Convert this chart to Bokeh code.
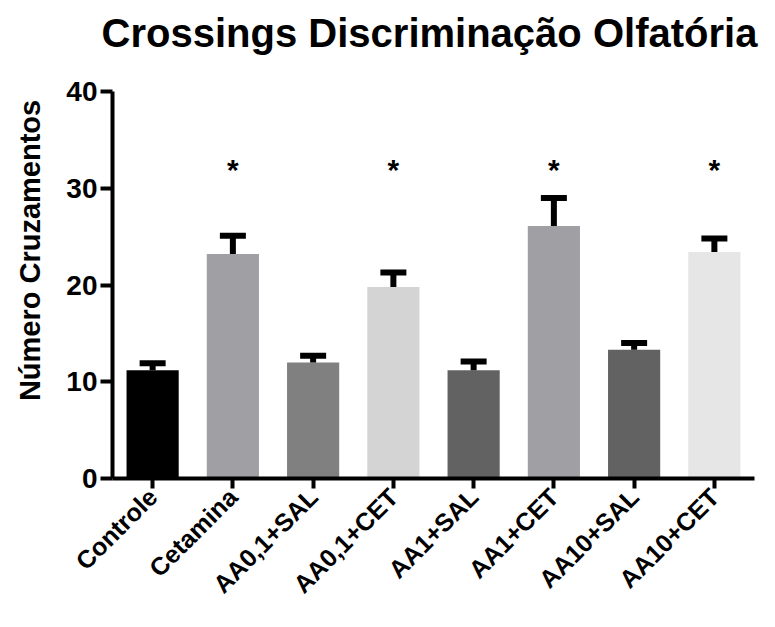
from bokeh.plotting import figure
from bokeh.models import FactorRange, Range1d, FixedTicker, ColumnDataSource
from bokeh.layouts import column, row
from bokeh.core.properties import value
from bokeh.embed import file_html
from bokeh.resources import INLINE
import math

categories = ["Controle", "Cetamina", "AA0,1+SAL", "AA0,1+CET",
              "AA1+SAL", "AA1+CET", "AA10+SAL", "AA10+CET"]
means = [11.2, 23.2, 12.0, 19.8, 11.2, 26.1, 13.3, 23.4]
upper = [11.9, 25.1, 12.7, 21.3, 12.1, 29.0, 14.0, 24.8]
colors = ["#000000", "#a0a0a4", "#808080", "#d4d4d4",
          "#626262", "#a0a0a4", "#626262", "#e6e6e6"]
sig_cats = ["Cetamina", "AA0,1+CET", "AA1+CET", "AA10+CET"]
sig_y = [31.9, 31.9, 31.9, 31.9]
y_ticks = [0, 10, 20, 30, 40]
title_text = "Crossings Discriminação Olfatória"
y_label_text = "Número Cruzamentos"

FONT = "Liberation Sans"

TOP, BOTTOM = 16, 128          # borders of the chart strip
TW, TH = 759, 75               # title strip
LW, LH = 50, 611 - TH          # y-label strip / chart height
FH = LH - TOP - BOTTOM         # frame height in pixels

# ---- title strip ----
t = figure(width=TW, height=TH, x_range=Range1d(0, TW), y_range=Range1d(0, TH),
           output_backend="svg", toolbar_location=None,
           x_axis_location=None, y_axis_location=None,
           min_border=0, outline_line_color=None)
t.grid.visible = False
t.text(x=[429], y=[TH - 32], text=[title_text], text_align="center",
       text_baseline="alphabetic", text_font=value(FONT), text_font_style="bold",
       text_font_size="40px", text_color="black")

# ---- y label strip (frame aligned with the chart frame) ----
lab = figure(width=LW, height=LH, x_range=Range1d(0, LW), y_range=Range1d(0, FH),
             output_backend="svg", toolbar_location=None,
             x_axis_location=None, y_axis_location=None,
             min_border_left=0, min_border_right=0,
             min_border_top=TOP, min_border_bottom=BOTTOM, outline_line_color=None)
lab.grid.visible = False
lab.text(x=[29], y=[FH - 161], text=[y_label_text], angle=math.pi / 2,
         text_align="center", text_baseline="middle", text_font=value(FONT),
         text_font_style="bold", text_font_size="29px", text_color="black")

# ---- main chart ----
p = figure(x_range=FactorRange(*categories, range_padding=0),
           y_range=Range1d(0, 40),
           width=TW - LW, height=LH, output_backend="svg", toolbar_location=None,
           min_border_left=112 - LW, min_border_right=5, min_border_top=TOP,
           min_border_bottom=BOTTOM)

src = ColumnDataSource(dict(x=categories, top=means, up=upper, color=colors))
p.vbar(x="x", top="top", width=0.65, fill_color="color", line_color=None, source=src)
p.segment(x0="x", y0="top", x1="x", y1="up", line_width=6, line_color="black", source=src)
p.rect(x="x", y="up", width=26, height=6, width_units="screen", height_units="screen",
       fill_color="black", line_color=None, source=src)

p.text(x=sig_cats, y=sig_y, text=["*"] * len(sig_cats), text_align="center",
       text_baseline="middle", text_font=value(FONT), text_font_style="bold",
       text_font_size="30px", text_color="black")

p.xgrid.visible = False
p.ygrid.visible = False
p.outline_line_color = None

for ax in (p.xaxis[0], p.yaxis[0]):
    ax.axis_line_width = 4
    ax.axis_line_color = "black"
    ax.major_tick_line_width = 4
    ax.major_tick_line_color = "black"
    ax.major_tick_out = 12
    ax.major_tick_in = 0
    ax.minor_tick_line_color = None
    ax.major_label_text_font = FONT
    ax.major_label_text_font_style = "bold"
    ax.major_label_text_color = "black"

p.yaxis.ticker = FixedTicker(ticks=y_ticks)
p.yaxis.major_label_text_font_size = "28px"
p.yaxis.major_label_standoff = 3

p.xaxis.major_tick_out = 10
p.xaxis.major_label_orientation = math.pi / 4
p.xaxis.major_label_text_font_size = "25px"
p.xaxis.major_label_standoff = 4

layout = column(t, row(lab, p, spacing=0), spacing=0)

open("out.html", "w").write(file_html(layout, INLINE))
